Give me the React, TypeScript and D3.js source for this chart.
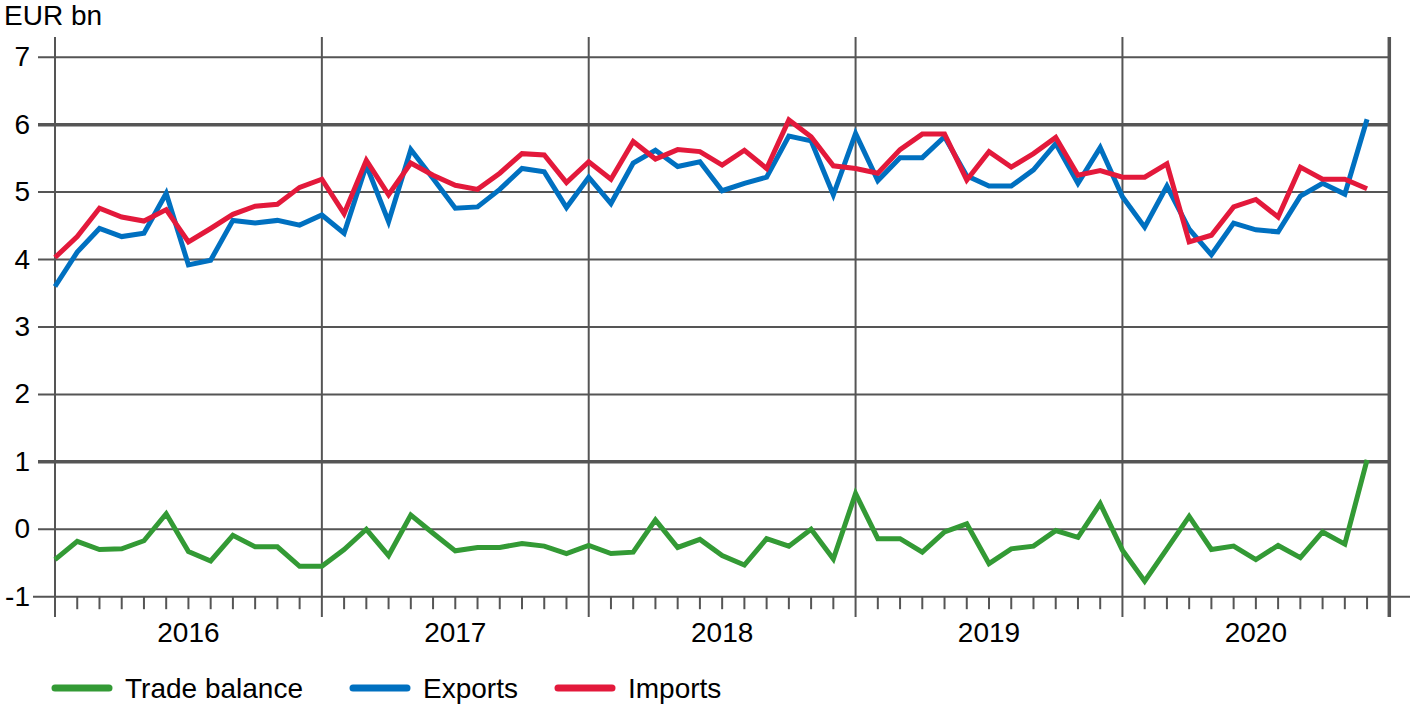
import React, {useEffect, useRef} from 'react';
import * as d3 from 'd3';

const years = ['2016', '2017', '2018', '2019', '2020'];
const yTicks = [-1, 0, 1, 2, 3, 4, 5, 6, 7];

// monthly values, Jan 2016 .. Dec 2020
const tradeBalance = [
  -0.45, -0.18, -0.30, -0.29, -0.17, 0.23, -0.33, -0.47, -0.09, -0.26, -0.26, -0.55,
  -0.55, -0.30, 0.00, -0.39, 0.21, -0.06, -0.32, -0.27, -0.27, -0.21, -0.25, -0.36,
  -0.24, -0.36, -0.34, 0.14, -0.27, -0.15, -0.39, -0.53, -0.14, -0.25, 0.00, -0.44,
  0.53, -0.14, -0.14, -0.34, -0.04, 0.08, -0.51, -0.29, -0.25, -0.02, -0.12, 0.38,
  -0.31, -0.77, -0.29, 0.19, -0.30, -0.25, -0.45, -0.24, -0.42, -0.04, -0.22, 1.03,
];
const exportsData = [
  3.60, 4.11, 4.46, 4.34, 4.39, 4.98, 3.92, 3.99, 4.58, 4.54, 4.58, 4.51,
  4.66, 4.39, 5.40, 4.56, 5.63, 5.20, 4.76, 4.78, 5.04, 5.35, 5.30, 4.77,
  5.22, 4.83, 5.43, 5.62, 5.38, 5.45, 5.02, 5.13, 5.22, 5.83, 5.76, 4.96,
  5.87, 5.17, 5.51, 5.51, 5.82, 5.24, 5.09, 5.09, 5.33, 5.72, 5.13, 5.66,
  4.93, 4.48, 5.09, 4.45, 4.07, 4.54, 4.44, 4.41, 4.94, 5.13, 4.97, 6.08,
];
const importsData = [
  4.03, 4.34, 4.76, 4.63, 4.57, 4.74, 4.26, 4.46, 4.67, 4.79, 4.82, 5.07,
  5.19, 4.68, 5.47, 4.96, 5.43, 5.25, 5.10, 5.04, 5.28, 5.57, 5.55, 5.14,
  5.45, 5.19, 5.75, 5.49, 5.63, 5.60, 5.40, 5.62, 5.35, 6.07, 5.82, 5.39,
  5.35, 5.28, 5.63, 5.86, 5.86, 5.18, 5.60, 5.37, 5.57, 5.81, 5.25, 5.32,
  5.22, 5.22, 5.42, 4.26, 4.36, 4.78, 4.89, 4.63, 5.37, 5.19, 5.19, 5.05,
];

const series = [
  {name: 'Trade balance', values: tradeBalance, color: '#339a35'},
  {name: 'Exports', values: exportsData, color: '#0070c0'},
  {name: 'Imports', values: importsData, color: '#e3193b'},
];

const W = 1410;
const H = 707;
const FONT = '"Liberation Sans", Arial, sans-serif';
const GRID = '#555555';

function TradeChart() {
  const ref = useRef<SVGSVGElement>(null);

  useEffect(() => {
    const svg = d3.select(ref.current);
    svg.selectAll('*').remove();

    const n = years.length * 12;
    const x = d3.scaleLinear().domain([0, n]).range([55, 1389.3]);
    const y = d3.scaleLinear().domain([-1, 7]).range([596.7, 57.2]);
    const top = 37;

    // horizontal grid
    svg.append('g').selectAll('line')
        .data(yTicks)
        .enter()
        .append('line')
        .attr('x1', (d) => d === -1 ? 33 : 38)
        .attr('x2', (d) => d === -1 ? W : x(n))
        .attr('y1', (d) => y(d))
        .attr('y2', (d) => y(d))
        .attr('stroke', GRID)
        .attr('stroke-width', (d) => (d === 6 || d === 1) ? 3.5 : 2);

    svg.append('g').selectAll('text')
        .data(yTicks)
        .enter()
        .append('text')
        .attr('x', 30)
        .attr('y', (d) => y(d) + 9)
        .attr('text-anchor', 'end')
        .attr('font-family', FONT)
        .attr('font-size', 28)
        .attr('fill', '#000')
        .text((d) => d);

    // month ticks
    svg.append('g').selectAll('line')
        .data(d3.range(1, n).filter((i) => i % 12 !== 0))
        .enter()
        .append('line')
        .attr('x1', (d) => x(d))
        .attr('x2', (d) => x(d))
        .attr('y1', y(-1))
        .attr('y2', y(-1) + 12.5)
        .attr('stroke', GRID)
        .attr('stroke-width', 2);

    // year lines
    svg.append('g').selectAll('line')
        .data(d3.range(0, years.length + 1))
        .enter()
        .append('line')
        .attr('x1', (d) => x(d * 12))
        .attr('x2', (d) => x(d * 12))
        .attr('y1', top)
        .attr('y2', 617)
        .attr('stroke', GRID)
        .attr('stroke-width', (d) => d === years.length ? 3.5 : 2);

    svg.append('g').selectAll('text')
        .data(years)
        .enter()
        .append('text')
        .attr('x', (d, i) => (x(i * 12) + x(i * 12 + 12)) / 2)
        .attr('y', 642)
        .attr('text-anchor', 'middle')
        .attr('font-family', FONT)
        .attr('font-size', 28)
        .attr('fill', '#000')
        .text((d) => d);

    svg.append('text')
        .attr('x', 4)
        .attr('y', 25)
        .attr('font-family', FONT)
        .attr('font-size', 28)
        .attr('fill', '#000')
        .text('EUR bn');

    const line = d3.line<number>()
        .x((d, i) => x(i))
        .y((d) => y(d));

    svg.append('g').selectAll('path')
        .data(series)
        .enter()
        .append('path')
        .attr('fill', 'none')
        .attr('stroke', (d) => d.color)
        .attr('stroke-width', 5)
        .attr('stroke-linejoin', 'miter')
        .attr('d', (d) => line(d.values));

    // legend
    const legendX = [55, 353, 558];
    const leg = svg.append('g').selectAll('g')
        .data(series)
        .enter()
        .append('g')
        .attr('transform', (d, i) => `translate(${legendX[i]}, 688)`);
    leg.append('line')
        .attr('x1', 0)
        .attr('x2', 54)
        .attr('stroke', (d) => d.color)
        .attr('stroke-width', 7)
        .attr('stroke-linecap', 'round');
    leg.append('text')
        .attr('x', 70)
        .attr('y', 10)
        .attr('font-family', FONT)
        .attr('font-size', 28)
        .attr('fill', '#000')
        .text((d) => d.name);
  }, []);

  return (
    <svg ref={ref} width={W} height={H}
      style={{position: 'absolute', left: 0, top: 0, background: '#fff'}}/>
  );
}

export default function App() {
  return <TradeChart/>;
}
